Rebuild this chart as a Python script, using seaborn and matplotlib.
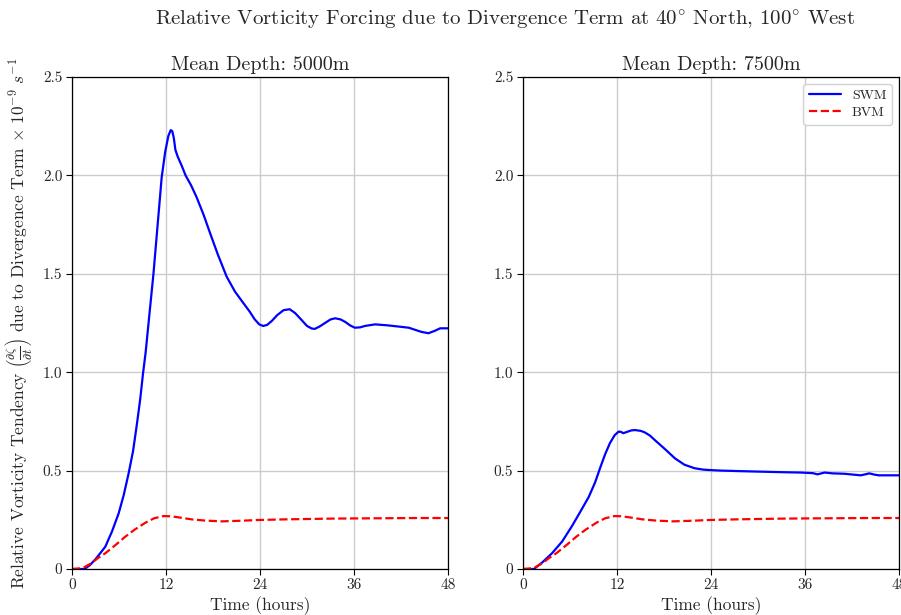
import numpy as np
import pandas as pd
import matplotlib
matplotlib.use("Agg")
import matplotlib.pyplot as plt
import seaborn as sns

# time (hours) / tendency (x 1e-9 s^-1)
swm_5000_t = [0, 1.6, 2.3, 3.0, 3.6, 4.25, 5.1, 5.96, 6.6, 7.23, 7.8, 8.3, 8.7, 9.07, 9.4, 9.7,
              10.05, 10.4, 10.7, 11.0, 11.45, 11.9, 12.3, 12.6, 12.8, 13.0, 13.2, 13.5, 14.0,
              14.5, 15.2, 15.9, 16.8, 17.6, 18.6, 19.75, 20.8, 21.9, 22.7, 23.3, 23.9, 24.4,
              24.9, 25.5, 26.2, 27.0, 27.8, 28.5, 29.2, 30.0, 30.6, 31.0, 31.6, 32.3, 33.0,
              33.6, 34.3, 34.9, 35.5, 36.1, 36.8, 37.4, 38.7, 40.3, 41.9, 43.0, 43.6, 44.6,
              45.5, 46.3, 47.0, 48.0]
swm_5000_v = [0, 0, 0.02, 0.05, 0.08, 0.113, 0.19, 0.283, 0.375, 0.486, 0.6, 0.74, 0.86, 0.994, 1.10, 1.22,
              1.36, 1.50, 1.64, 1.78, 1.99, 2.12, 2.20, 2.23, 2.225, 2.19, 2.13, 2.095, 2.05,
              2.00, 1.95, 1.89, 1.80, 1.71, 1.60, 1.485, 1.41, 1.35, 1.307, 1.27, 1.243, 1.235,
              1.24, 1.26, 1.29, 1.315, 1.32, 1.30, 1.27, 1.235, 1.222, 1.22, 1.232, 1.25, 1.268,
              1.274, 1.268, 1.255, 1.238, 1.226, 1.228, 1.235, 1.243, 1.238, 1.231, 1.226, 1.218, 1.205,
              1.198, 1.21, 1.223, 1.223]

swm_7500_t = [0, 1.4, 2.5, 3.7, 5.0, 6.2, 7.3, 8.4, 9.2, 9.9, 10.5, 11.1, 11.7, 12.2, 12.5,
              12.8, 13.3, 13.8, 14.3, 15.0, 15.5, 16.2, 16.8, 18.1, 19.4, 20.6, 21.9, 23.0,
              23.7, 25.3, 28, 31, 33, 35.5, 37.0, 37.6, 38.5, 39.5, 41, 43.1, 43.7, 44.2, 44.8,
              45.4, 46.5, 47.6, 48]
swm_7500_v = [0, 0, 0.035, 0.08, 0.14, 0.215, 0.29, 0.367, 0.44, 0.52, 0.585, 0.64, 0.68, 0.698, 0.697,
              0.69, 0.697, 0.704, 0.706, 0.702, 0.695, 0.678, 0.656, 0.61, 0.562, 0.53, 0.512, 0.505,
              0.503, 0.5, 0.497, 0.494, 0.492, 0.49, 0.487, 0.481, 0.49, 0.486, 0.484, 0.476, 0.481,
              0.486, 0.48, 0.476, 0.476, 0.476, 0.476]

# barotropic vorticity model curve is the same in both panels
bvm_t = [0, 1.0, 1.6, 2.5, 3.3, 4.25, 5.5, 6.8, 8.0, 9.36, 10.5, 11.7, 12.5, 13.5, 15.3,
         17.0, 19.1, 21.5, 23.8, 27, 30, 33, 36.2, 40, 44, 48]
bvm_v = [0, 0.003, 0.01, 0.03, 0.055, 0.08, 0.12, 0.164, 0.2, 0.235, 0.258, 0.269, 0.268, 0.263, 0.252,
         0.246, 0.242, 0.245, 0.249, 0.252, 0.254, 0.256, 0.257, 0.258, 0.259, 0.259]

depths = ["5000m", "7500m"]
x_ticks = [0, 12, 24, 36, 48]
y_ticks = [0, 0.5, 1.0, 1.5, 2.0, 2.5]
y_ticklabels = ["0", "0.5", "1.0", "1.5", "2.0", "2.5"]


def _panel_frame(swm_t, swm_v):
    return pd.concat([
        pd.DataFrame({"Time": swm_t, "Value": swm_v, "Model": "SWM"}),
        pd.DataFrame({"Time": bvm_t, "Value": bvm_v, "Model": "BVM"}),
    ], ignore_index=True)


sns.set_style("whitegrid", {
    "axes.edgecolor": "black",
    "grid.color": "#cccccc",
    "xtick.bottom": True,
    "ytick.left": True,
})
plt.rcParams["font.family"] = ["cmr10", "DejaVu Serif"]
plt.rcParams["mathtext.fontset"] = "cm"
plt.rcParams["axes.formatter.use_mathtext"] = True

fig = plt.figure(figsize=(9.01, 6.15), dpi=100)
ax_left = fig.add_axes([0.0799, 0.0748, 0.4173, 0.8])
ax_right = fig.add_axes([0.5805, 0.0748, 0.4173, 0.8])

frames = [_panel_frame(swm_5000_t, swm_5000_v), _panel_frame(swm_7500_t, swm_7500_v)]

for ax, df, depth in zip([ax_left, ax_right], frames, depths):
    sns.lineplot(
        data=df, x="Time", y="Value", hue="Model", style="Model",
        palette={"SWM": "blue", "BVM": "red"},
        dashes={"SWM": "", "BVM": (3.7, 1.6)},
        estimator=None, linewidth=1.6, ax=ax, legend=False,
    )
    ax.set_xlim(0, 48)
    ax.set_ylim(0, 2.5)
    ax.set_xticks(x_ticks)
    ax.set_xticklabels([str(t) for t in x_ticks])
    ax.set_yticks(y_ticks)
    ax.set_yticklabels(y_ticklabels)
    ax.tick_params(axis="both", labelsize=11, length=4, width=0.8,
                   direction="out", color="black", pad=3)
    for s in ax.spines.values():
        s.set_linewidth(0.9)
        s.set_color("black")
    ax.grid(True, color="#cccccc", linewidth=1.0)
    ax.set_title(f"Mean Depth: {depth}", fontsize=14.5, pad=5)
    ax.set_xlabel("Time (hours)", fontsize=12.5, labelpad=3)
    ax.set_ylabel("")

ax_left.set_ylabel(
    r"Relative Vorticity Tendency $\left(\frac{\partial\zeta}{\partial t}\right)$"
    r" due to Divergence Term $\times\ 10^{-9}\ s^{-1}$",
    fontsize=12.5, labelpad=6,
)

handles = [
    plt.Line2D([], [], color="blue", lw=1.6, label="SWM"),
    plt.Line2D([], [], color="red", lw=1.6, ls=(0, (3.7, 1.6)), label="BVM"),
]
ax_right.legend(handles=handles, loc="upper right", fontsize=10, labelspacing=0.3,
                handlelength=2.3, frameon=True, edgecolor="#cccccc", fancybox=True,
                framealpha=0.9)

fig.suptitle(r"Relative Vorticity Forcing due to Divergence Term at 40$^{\circ}$ North, 100$^{\circ}$ West",
             fontsize=15, x=0.56, y=0.985)

fig.savefig("out.png", dpi=100)
